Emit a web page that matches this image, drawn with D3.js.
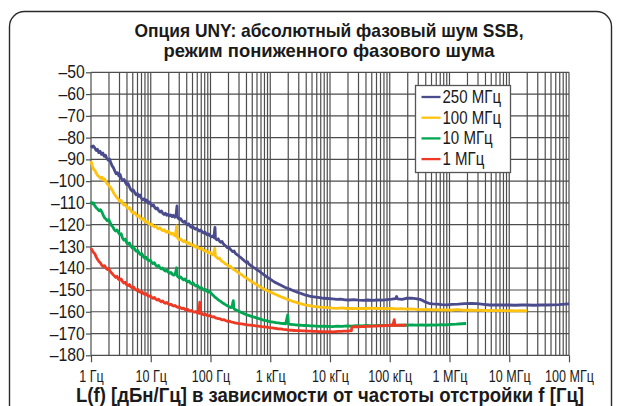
<!DOCTYPE html>
<html>
<head>
<meta charset="utf-8">
<script src="https://cdn.jsdelivr.net/npm/d3@7"></script>
<style>
  body { margin: 0; background: #fff; }
  svg { display: block; }
</style>
</head>
<body>
<svg id="chart" width="618" height="406"></svg>
<script>
// Titles and axis text
const titleLines = ["Опция UNY: абсолютный фазовый шум SSB,", "режим пониженного фазового шума"];
const xAxisTitle = "L(f) [дБн/Гц] в зависимости от частоты отстройки f [Гц]";

// Axis ticks
const yTicks = [-50, -60, -70, -80, -90, -100, -110, -120, -130, -140, -150, -160, -170, -180];
const xDecades = [1, 1e1, 1e2, 1e3, 1e4, 1e5, 1e6, 1e7, 1e8];
const xTickLabels = ["1 Гц", "10 Гц", "100 Гц", "1 кГц", "10 кГц", "100 кГц", "1 МГц", "10 МГц", "100 МГц"];

// Carrier frequencies (legend order) and colours
const carriers = ["250 МГц", "100 МГц", "10 МГц", "1 МГц"];
const carrierColors = ["#4a4b8c", "#ffc20e", "#00a651", "#ee3a24"];

// SSB phase noise, [offset Hz, dBc/Hz]
const ssb250 = [
  [1,-83.6],[1.05,-84.4],[1.1,-83.9],[1.16,-84.8],[1.22,-85.9],[1.28,-85.3],[1.35,-86.9],[1.42,-86.3],[1.5,-87.7],[1.58,-87.1],
  [1.66,-88.6],[1.75,-88.1],[1.84,-89.6],[1.94,-90.4],[2.04,-89.8],[2.15,-91.6],[2.26,-93.0],[2.38,-93.9],[2.5,-95.3],[2.63,-96.6],
  [2.77,-96.1],[2.92,-97.5],[3.07,-96.9],[3.23,-98.9],[3.4,-99.7],[3.58,-99.2],[3.77,-100.6],[3.97,-101.7],[4.18,-101.1],[4.4,-102.6],
  [4.63,-103.9],[4.87,-104.6],[5.13,-104.1],[5.4,-105.3],[5.68,-106.3],[5.98,-105.7],[6.3,-107.0],[6.63,-106.4],[6.98,-107.9],[7.35,-108.6],
  [7.74,-108.1],[8.15,-109.2],[8.58,-108.7],[9.03,-110.1],[9.5,-109.6],[10,-110.6],[10.5,-111.4],[11.1,-110.9],[11.7,-112.2],[12.3,-112.8],
  [12.9,-112.3],[13.6,-113.6],[14.3,-114.2],[15.1,-113.7],[15.9,-114.8],[16.7,-115.3],[17.6,-114.7],[18.5,-115.7],[19.5,-115.2],[20.5,-116.0],
  [21.6,-115.5],[22.7,-116.3],[23.9,-115.7],[25.2,-116.6],[26.5,-116.0],[27.1,-113.0],[27.5,-111.4],[27.9,-116.2],[28.6,-117.0],[30.1,-117.5],
  [31.7,-117.2],[33.4,-118.3],[35.2,-118.9],[37,-118.4],[39,-119.5],[41,-120.1],[43.2,-119.6],[45.5,-120.7],[47.9,-121.2],[50.4,-120.8],
  [53.1,-121.6],[55.9,-122.1],[58.8,-121.6],[61.9,-122.5],[65.2,-122.9],[68.7,-122.4],[72.3,-123.3],[76.1,-123.8],[80.1,-123.3],[84.3,-124.2],
  [88.8,-124.7],[93.5,-124.3],[98.4,-125.1],[103.6,-125.6],[109,-125.2],[114.8,-126.0],[117,-122.6],[119,-121.2],[121,-126.3],[127,-126.9],
  [134,-126.5],[141,-127.5],[148,-128.1],[156,-127.7],[164,-128.8],[173,-129.4],[182,-129.9],[192,-130.6],[202,-130.3],[213,-131.2],
  [224,-131.8],[236,-132.4],[248,-132.1],[261,-133.2],[275,-133.7],[290,-134.1],[305,-134.7],[321,-135.1],[338,-135.7],[356,-136.2],
  [375,-136.8],[395,-137.3],[416,-137.0],[438,-138.1],[461,-138.5],[485,-139.0],[511,-139.4],[538,-139.9],[566,-140.1],[596,-140.7],
  [628,-141.1],[661,-141.4],[696,-142.0],[733,-142.4],[772,-142.9],[813,-143.3],[856,-143.8],[901,-144.2],[949,-144.6],[999,-145.0],
  [1100,-145.8],[1200,-146.5],[1320,-147.0],[1450,-147.6],[1600,-148.2],[1750,-148.7],[1930,-149.2],[2120,-149.6],[2330,-150.1],[2560,-150.6],
  [2820,-151.0],[3100,-151.4],[3410,-151.8],[3750,-152.2],[4130,-152.5],[4540,-152.8],[5000,-153.0],[5800,-153.3],[6700,-153.5],[7800,-153.8],
  [9000,-153.9],[11000,-154.1],[13000,-154.3],[15000,-154.2],[18000,-154.5],[21000,-154.6],[25000,-154.4],[30000,-154.7],[36000,-154.8],[43000,-154.6],
  [52000,-154.8],[62000,-154.6],[75000,-154.7],[90000,-154.4],[108000,-154.2],[125000,-154.0],[130000,-153.0],[135000,-154.1],[160000,-154.3],[190000,-153.8],
  [230000,-153.7],[270000,-154.0],[320000,-154.3],[360000,-154.9],[400000,-155.6],[450000,-156.1],[520000,-156.4],[620000,-156.5],[750000,-156.7],[900000,-156.8],
  [1.1e6,-156.6],[1.4e6,-156.5],[1.8e6,-156.3],[2.3e6,-156.2],[2.9e6,-156.3],[3.7e6,-156.6],[4.7e6,-156.9],[6e6,-156.9],[7.6e6,-156.8],[9.7e6,-156.9],
  [1.25e7,-157.0],[1.6e7,-156.9],[2.0e7,-156.9],[2.6e7,-157.0],[3.3e7,-156.9],[4.2e7,-156.9],[5.3e7,-156.8],[6.8e7,-156.7],[8.6e7,-156.5],[1e8,-156.4]
];

const ssb100 = [
  [1,-90.8],[1.05,-92.9],[1.1,-94.4],[1.16,-95.1],[1.22,-96.3],[1.29,-97.4],[1.36,-97.9],[1.44,-98.7],[1.52,-98.2],[1.6,-99.4],
  [1.69,-99.0],[1.78,-100.4],[1.88,-101.3],[1.98,-102.1],[2.09,-102.6],[2.2,-103.6],[2.32,-104.7],[2.45,-105.9],[2.58,-106.8],[2.72,-107.6],
  [2.87,-108.4],[3.03,-109.3],[3.19,-108.8],[3.37,-110.3],[3.55,-111.0],[3.75,-110.5],[3.95,-111.9],[4.17,-112.6],[4.4,-112.1],[4.64,-113.5],
  [4.89,-114.3],[5.16,-114.9],[5.44,-114.4],[5.74,-115.7],[6.05,-116.2],[6.38,-115.8],[6.73,-117.0],[7.1,-117.6],[7.49,-117.1],[7.9,-118.4],
  [8.33,-118.9],[8.79,-118.5],[9.27,-119.6],[9.78,-120.0],[10.3,-119.7],[10.9,-120.5],[11.5,-121.0],[12.1,-120.6],[12.8,-121.5],[13.5,-121.9],
  [14.2,-121.4],[15,-122.2],[15.8,-122.7],[16.7,-122.3],[17.6,-123.1],[18.6,-123.5],[19.6,-123.0],[20.7,-123.8],[21.8,-124.3],[23,-123.9],
  [24.3,-124.7],[25.6,-125.2],[26.6,-122.6],[27.1,-120.6],[27.6,-125.4],[28.5,-126.3],[30,-126.9],[31.7,-126.5],[33.4,-127.3],[35.3,-127.8],
  [37.2,-127.4],[39.2,-128.2],[41.4,-128.7],[43.7,-128.3],[46.1,-129.1],[48.6,-129.5],[51.3,-129.2],[54.1,-130.0],[57.1,-130.4],[60.2,-130.1],
  [63.5,-130.8],[67,-131.1],[70.7,-130.8],[74.6,-131.6],[78.7,-132.0],[83,-131.7],[87.6,-132.5],[92.4,-132.9],[97.5,-132.6],[103,-133.4],
  [108.5,-133.9],[113,-133.6],[116,-131.5],[118,-130.9],[120.5,-134.5],[127,-135.0],[134,-135.6],[141,-135.3],[149,-136.3],[157,-136.9],
  [166,-137.3],[175,-137.9],[185,-138.2],[195,-138.8],[206,-139.3],[217,-139.1],[229,-140.0],[242,-140.5],[255,-140.9],[269,-141.3],
  [284,-141.8],[300,-142.2],[316,-142.7],[333,-143.0],[352,-143.6],[371,-144.0],[391,-144.4],[413,-144.8],[436,-145.3],[460,-145.7],
  [485,-146.1],[512,-146.5],[540,-146.9],[570,-147.3],[601,-147.7],[634,-148.1],[669,-148.5],[706,-148.9],[745,-149.2],[786,-149.6],
  [829,-149.9],[875,-150.3],[923,-150.5],[974,-150.8],[1030,-151.1],[1130,-151.6],[1240,-152.1],[1370,-152.6],[1500,-153.1],[1650,-153.5],
  [1820,-154.0],[2000,-154.4],[2200,-154.9],[2420,-155.3],[2660,-155.6],[2930,-156.0],[3220,-156.3],[3540,-156.6],[3900,-156.9],[4290,-157.1],
  [4720,-157.3],[5200,-157.5],[5900,-157.7],[6800,-157.9],[7800,-158.0],[9000,-158.1],[11000,-158.3],[13000,-158.4],[16000,-158.2],[19000,-158.5],
  [23000,-158.4],[28000,-158.6],[34000,-158.4],[41000,-158.5],[50000,-158.3],[60000,-158.5],[73000,-158.4],[88000,-158.6],[107000,-158.5],[130000,-158.7],
  [157000,-158.6],[190000,-158.8],[230000,-158.7],[280000,-158.9],[340000,-159.0],[410000,-158.9],[500000,-159.1],[600000,-159.0],[730000,-159.2],[880000,-159.1],
  [1.07e6,-159.3],[1.3e6,-159.0],[1.6e6,-159.2],[1.9e6,-159.3],[2.3e6,-159.2],[2.8e6,-159.4],[3.4e6,-159.3],[4.1e6,-159.5],[5e6,-159.4],[6e6,-159.5],
  [7.3e6,-159.4],[8.8e6,-159.6],[1.07e7,-159.5],[1.3e7,-159.6],[1.6e7,-159.5],[2e7,-159.6]
];

const ssb10 = [
  [1,-109.3],[1.05,-110.4],[1.1,-110.0],[1.16,-111.4],[1.22,-112.2],[1.29,-112.8],[1.36,-113.6],[1.44,-113.1],[1.52,-114.2],[1.6,-115.6],
  [1.69,-116.9],[1.78,-117.4],[1.88,-118.2],[1.98,-117.7],[2.09,-119.0],[2.2,-120.3],[2.32,-121.0],[2.45,-122.3],[2.58,-122.9],[2.72,-122.4],
  [2.87,-123.6],[3.03,-124.5],[3.19,-124.1],[3.37,-126.2],[3.55,-127.1],[3.75,-126.6],[3.95,-128.3],[4.17,-128.9],[4.4,-128.4],[4.64,-129.9],
  [4.89,-130.7],[5.16,-130.2],[5.44,-131.5],[5.74,-132.2],[6.05,-131.8],[6.38,-133.0],[6.73,-133.7],[7.1,-133.3],[7.49,-134.6],[7.9,-135.3],
  [8.33,-134.9],[8.79,-136.0],[9.27,-136.6],[9.78,-136.2],[10.3,-137.3],[10.9,-137.9],[11.5,-137.5],[12.1,-138.6],[12.8,-139.2],[13.5,-138.7],
  [14.2,-139.8],[15,-140.3],[15.8,-139.9],[16.7,-140.9],[17.6,-141.3],[18.6,-140.8],[19.6,-141.8],[20.7,-142.3],[21.8,-141.9],[23,-142.8],
  [24.3,-143.2],[25.6,-142.7],[26.6,-141.0],[27.1,-139.8],[27.6,-143.3],[28.5,-144.0],[30,-144.4],[31.7,-144.0],[33.4,-144.8],[35.3,-145.3],
  [37.2,-144.9],[39.2,-145.8],[41.4,-146.3],[43.7,-145.9],[46.1,-146.8],[48.6,-147.2],[51.3,-146.8],[54.1,-147.7],[57.1,-148.2],[60.2,-147.8],
  [63.5,-148.7],[67,-149.2],[70.7,-148.9],[74.6,-149.7],[78.7,-150.1],[83,-149.8],[87.6,-150.6],[92.4,-151.0],[97.5,-150.7],[103,-151.6],
  [108.5,-152.2],[114,-152.8],[120,-153.4],[127,-153.9],[134,-154.4],[141,-154.9],[149,-155.3],[157,-155.8],[166,-156.2],[175,-156.6],
  [185,-157.0],[195,-157.4],[206,-157.7],[217,-158.1],[229,-157.9],[236,-155.8],[241,-154.9],[246,-158.5],[255,-158.9],[269,-159.2],
  [284,-159.5],[300,-159.8],[316,-160.1],[333,-160.4],[352,-160.7],[371,-161.0],[391,-161.2],[413,-161.5],[436,-161.7],[460,-161.9],
  [485,-162.1],[512,-162.3],[540,-162.5],[570,-162.7],[601,-162.9],[634,-163.1],[669,-163.3],[706,-163.5],[745,-163.7],[786,-163.9],
  [829,-164.0],[875,-164.2],[923,-164.3],[974,-164.5],[1030,-164.6],[1130,-164.8],[1240,-165.0],[1370,-165.1],[1500,-165.3],[1650,-165.4],
  [1820,-165.5],[1900,-163.0],[1960,-161.4],[2020,-165.7],[2200,-165.8],[2420,-165.9],[2660,-166.0],[2930,-166.1],[3220,-166.2],[3540,-166.3],
  [3900,-166.3],[4290,-166.4],[4720,-166.5],[5200,-166.5],[5900,-166.6],[6800,-166.7],[7800,-166.6],[9000,-166.7],[11000,-166.8],[13000,-166.6],
  [16000,-166.7],[19000,-166.5],[23000,-166.6],[28000,-166.4],[34000,-166.5],[41000,-166.3],[50000,-166.5],[60000,-166.4],[73000,-166.3],[88000,-166.4],
  [107000,-166.2],[130000,-166.3],[157000,-166.1],[190000,-166.2],[230000,-166.0],[280000,-166.1],[340000,-166.0],[410000,-166.2],[500000,-166.0],[600000,-166.1],
  [730000,-165.9],[880000,-166.0],[1.07e6,-165.8],[1.3e6,-165.7],[1.6e6,-165.5],[1.9e6,-165.4]
];

const ssb1 = [
  [1,-130.8],[1.05,-131.9],[1.1,-132.7],[1.16,-133.4],[1.22,-134.8],[1.29,-136.0],[1.36,-136.9],[1.44,-137.6],[1.52,-138.7],[1.6,-139.2],
  [1.69,-138.8],[1.78,-140.0],[1.88,-140.6],[1.98,-140.2],[2.09,-141.3],[2.2,-142.1],[2.32,-142.8],[2.45,-143.5],[2.58,-144.2],[2.72,-143.7],
  [2.87,-145.0],[3.03,-145.4],[3.19,-144.9],[3.37,-146.1],[3.55,-146.8],[3.75,-146.4],[3.95,-147.6],[4.17,-148.0],[4.4,-147.5],[4.64,-148.6],
  [4.89,-149.0],[5.16,-148.6],[5.44,-149.6],[5.74,-150.1],[6.05,-149.7],[6.38,-150.7],[6.73,-151.1],[7.1,-150.7],[7.49,-151.6],[7.9,-152.0],
  [8.33,-151.6],[8.79,-152.5],[9.27,-152.9],[9.78,-152.6],[10.3,-153.4],[10.9,-153.8],[11.5,-153.4],[12.1,-154.2],[12.8,-154.6],[13.5,-154.2],
  [14.2,-155.0],[15,-155.4],[15.8,-155.0],[16.7,-155.8],[17.6,-156.1],[18.6,-155.7],[19.6,-156.4],[20.7,-156.8],[21.8,-156.5],[23,-157.1],
  [24.3,-157.4],[25.6,-157.1],[27,-157.7],[28.5,-158.0],[30,-157.7],[31.7,-158.3],[33.4,-158.6],[35.3,-158.3],[37.2,-158.9],[39.2,-159.2],
  [41.4,-158.9],[43.7,-159.5],[46.1,-159.7],[48.6,-159.4],[51.3,-160.0],[54.1,-160.2],[57.1,-159.9],[60.2,-160.5],[63.5,-160.7],[65,-158.2],
  [66,-155.6],[67,-160.8],[70.7,-160.6],[74.6,-161.2],[78.7,-161.4],[83,-161.1],[87.6,-161.7],[92.4,-161.9],[97.5,-161.6],[103,-162.2],
  [108.5,-162.4],[114,-162.2],[120,-162.8],[127,-162.9],[134,-163.2],[141,-163.1],[149,-163.5],[157,-163.7],[166,-163.6],[175,-163.9],
  [185,-164.2],[195,-164.4],[206,-164.3],[217,-164.6],[229,-164.8],[242,-164.9],[255,-165.1],[269,-165.2],[284,-165.3],[300,-165.4],
  [333,-165.6],[371,-165.8],[413,-166.0],[460,-166.1],[512,-166.3],[570,-166.5],[634,-166.6],[706,-166.8],[786,-166.9],[875,-167.1],
  [974,-167.3],[1080,-167.4],[1200,-167.6],[1340,-167.8],[1490,-167.9],[1650,-168.1],[1840,-168.2],[2050,-168.4],[2280,-168.5],[2530,-168.6],
  [2820,-168.7],[3130,-168.7],[3480,-168.8],[3870,-168.8],[4300,-168.9],[4790,-168.9],[5320,-169.0],[5920,-169.0],[6580,-169.1],[7320,-169.1],
  [8140,-169.1],[9050,-169.2],[10100,-169.1],[11200,-169.2],[12400,-169.1],[13800,-169.0],[15400,-169.0],[17100,-168.9],[19000,-168.9],[21100,-168.8],
  [22800,-168.8],[23200,-167.0],[25000,-166.9],[28000,-166.8],[31000,-166.9],[35000,-166.7],[39000,-166.8],[43000,-166.6],[48000,-166.7],[54000,-166.5],
  [60000,-166.6],[67000,-166.4],[75000,-166.5],[84000,-166.3],[94000,-166.4],[105000,-166.2],[112000,-166.3],[116000,-164.8],[119000,-163.6],[122000,-166.3],
  [135000,-166.2],[150000,-166.1],[170000,-166.2],[190000,-166.0]
];

const seriesData = [ssb250, ssb100, ssb10, ssb1];

// ---------- drawing ----------
const svg = d3.select("#chart");
const plot = { left: 91, right: 569, top: 72.3, bottom: 355.3 };
const sans = "'Liberation Sans', Arial, sans-serif";
const gridColor = "#4d4d4d";
const inkColor = "#1a1a1a";

const x = d3.scaleLog().domain([1, 1e8]).range([plot.left, plot.right]);
const y = d3.scaleLinear().domain([-50, -180]).range([plot.top, plot.bottom]);

// outer frame with rounded corners
svg.append("rect")
  .attr("x", 9.5).attr("y", 11.5)
  .attr("width", 602).attr("height", 420)
  .attr("rx", 15).attr("ry", 15)
  .attr("fill", "#fff").attr("stroke", "#2a2a2a").attr("stroke-width", 1.4);

// title (condensed bold, fitted to width)
const titleG = svg.append("g")
  .attr("font-family", sans).attr("font-weight", "bold")
  .attr("font-size", 19).attr("fill", inkColor).attr("text-anchor", "middle");
const titleWidths = [389, 331];
titleLines.forEach((t, i) => {
  titleG.append("text")
    .attr("x", 329).attr("y", 36.5 + i * 20.5)
    .attr("textLength", titleWidths[i]).attr("lengthAdjust", "spacingAndGlyphs")
    .text(t);
});

// vertical grid lines at 1..9 of every decade
const gridFreqs = [];
xDecades.slice(0, -1).forEach(d => d3.range(1, 10).forEach(k => gridFreqs.push(d * k)));
gridFreqs.push(1e8);

const grid = svg.append("g").attr("stroke", gridColor).attr("stroke-width", 1.2);
grid.selectAll("line.v").data(gridFreqs).join("line")
  .attr("class", "v")
  .attr("x1", d => x(d)).attr("x2", d => x(d))
  .attr("y1", plot.top).attr("y2", plot.bottom);
grid.selectAll("line.h").data(yTicks).join("line")
  .attr("class", "h")
  .attr("x1", plot.left).attr("x2", plot.right)
  .attr("y1", d => y(d)).attr("y2", d => y(d));

// y axis
const yAxis = d3.axisLeft(y).tickValues(yTicks).tickSize(5).tickPadding(2)
  .tickFormat(d => "\u2013" + Math.abs(d));
const gy = svg.append("g").attr("transform", `translate(${plot.left},0)`).call(yAxis);
gy.select(".domain").remove();
gy.selectAll(".tick line").attr("stroke", gridColor).attr("stroke-width", 1.2);
gy.selectAll(".tick text")
  .attr("font-family", sans).attr("font-size", 17.5).attr("fill", inkColor)
  .attr("transform", "scale(0.9,1)");

// x axis (labels condensed horizontally)
const xAxis = d3.axisBottom(x).tickValues(xDecades).tickSize(7).tickPadding(8)
  .tickFormat((d, i) => xTickLabels[i]);
const gx = svg.append("g").attr("transform", `translate(0,${plot.bottom})`).call(xAxis);
gx.select(".domain").remove();
gx.selectAll(".tick line").attr("stroke", gridColor).attr("stroke-width", 1.2);
gx.selectAll(".tick text")
  .attr("font-family", sans).attr("font-size", 17).attr("fill", inkColor)
  .attr("transform", "scale(0.74,1)");

// x axis title
svg.append("text")
  .attr("x", 330).attr("y", 402)
  .attr("text-anchor", "middle")
  .attr("font-family", sans).attr("font-weight", "bold").attr("font-size", 20)
  .attr("fill", inkColor)
  .attr("textLength", 508).attr("lengthAdjust", "spacingAndGlyphs")
  .text(xAxisTitle);

// noise curves
const line = d3.line().x(d => x(d[0])).y(d => y(d[1]));
svg.append("g").selectAll("path").data(seriesData).join("path")
  .attr("d", line)
  .attr("fill", "none")
  .attr("stroke", (d, i) => carrierColors[i])
  .attr("stroke-width", 2.8)
  .attr("stroke-linejoin", "round");

// legend
const lg = svg.append("g").attr("transform", "translate(415.5,85.5)");
lg.append("rect").attr("width", 95).attr("height", 87)
  .attr("fill", "#fff").attr("stroke", "#555").attr("stroke-width", 1.3);
const rows = lg.selectAll("g.row").data(carriers).join("g")
  .attr("class", "row")
  .attr("transform", (d, i) => `translate(0,${11.5 + i * 20.7})`);
rows.append("line").attr("x1", 6).attr("x2", 25)
  .attr("stroke", (d, i) => carrierColors[i]).attr("stroke-width", 2.3);
rows.append("text").attr("x", 27).attr("y", 6)
  .attr("font-family", sans).attr("font-size", 17.5).attr("fill", inkColor)
  .attr("transform", "translate(27,0) scale(0.86,1) translate(-27,0)")
  .text(d => d);
</script>
</body>
</html>
